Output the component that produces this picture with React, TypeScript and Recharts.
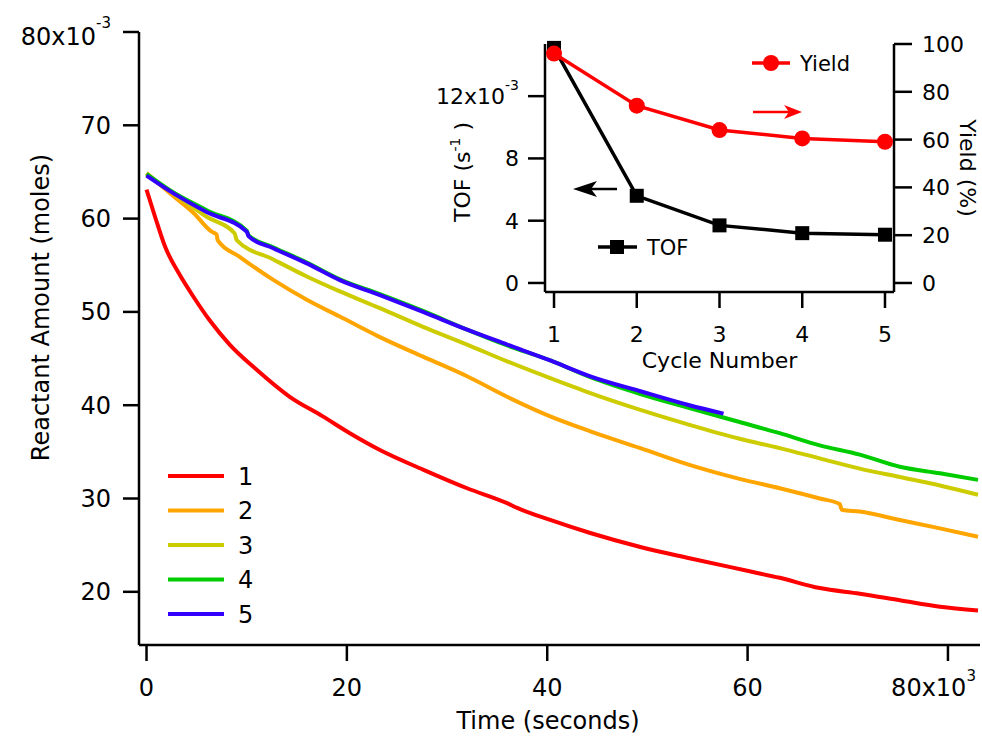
import React from 'react';
import { LineChart, Line, XAxis, YAxis, Legend, Label } from 'recharts';

const FONT = '"DejaVu Sans", Verdana, sans-serif';

// reactant amount (x10^-3 moles) against time (seconds), one pair of arrays per cycle
const run1Time = [0, 850, 1850, 3300, 4700, 6300, 8300, 11000, 14300, 17600, 20300, 23300, 27600, 32000, 36000, 37000, 40300, 44300, 49300, 54200, 60200, 63200, 67200, 71200, 75200, 79200, 83000];
const run1Amount = [63.1, 60.2, 57.0, 54.0, 51.6, 49.1, 46.5, 43.8, 40.9, 38.8, 37.0, 35.2, 33.1, 31.1, 29.5, 29.0, 27.7, 26.3, 24.8, 23.6, 22.2, 21.5, 20.4, 19.8, 19.1, 18.4, 18.0];

const run2Time = [0, 2700, 4700, 6500, 7000, 7100, 9300, 12700, 16000, 19300, 23300, 27600, 32000, 36000, 40300, 44300, 49300, 54200, 59200, 63200, 67200, 69200, 69400, 71200, 75200, 79200, 83000];
const run2Amount = [64.9, 62.4, 60.6, 58.6, 58.3, 57.7, 55.9, 53.4, 51.3, 49.5, 47.3, 45.2, 43.1, 40.9, 38.8, 37.2, 35.4, 33.6, 32.1, 31.1, 30.0, 29.4, 28.8, 28.6, 27.7, 26.8, 25.9];

const run3Time = [0, 2700, 6000, 8800, 9000, 12700, 16000, 19300, 23300, 27600, 32000, 36000, 40300, 44300, 49300, 54200, 59200, 63200, 67200, 71200, 75200, 79200, 83000];
const run3Amount = [64.7, 62.7, 60.2, 58.4, 57.7, 55.6, 53.8, 52.2, 50.4, 48.4, 46.5, 44.7, 42.9, 41.3, 39.5, 37.9, 36.4, 35.4, 34.3, 33.2, 32.3, 31.4, 30.4];

const run4Time = [0, 2700, 6000, 10000, 10200, 12700, 16000, 19300, 23300, 27600, 32000, 36000, 40300, 44300, 49300, 54200, 59200, 63200, 67200, 71200, 75200, 79200, 83000];
const run4Amount = [64.8, 62.8, 60.9, 58.7, 58.2, 56.9, 55.3, 53.5, 51.9, 50.1, 48.1, 46.4, 44.8, 43.0, 41.2, 39.7, 38.2, 37.0, 35.7, 34.7, 33.4, 32.7, 32.0];

const run5Time = [0, 2700, 6000, 10000, 10200, 12700, 16000, 19300, 23300, 27600, 32000, 36000, 40300, 44300, 49300, 54200, 57600];
const run5Amount = [64.6, 62.7, 60.7, 58.6, 58.1, 56.8, 55.2, 53.4, 51.8, 50.0, 48.1, 46.5, 44.8, 43.1, 41.5, 40.0, 39.1];

const runNames = ['1', '2', '3', '4', '5'];
const RUN_COLORS = ['#FF0000', '#FFA500', '#CCCC00', '#00CC00', '#3300FF'];

// inset: turnover frequency (x10^-3 s^-1) and yield (%) per cycle
const cycles = [1, 2, 3, 4, 5];
const tofValues = [15.1, 5.6, 3.7, 3.2, 3.1];
const yieldValues = [96, 74.2, 64, 60.5, 59.1];

const timeTicks = [0, 20000, 40000, 60000, 80000];
const amountTicks = [20, 30, 40, 50, 60, 70, 80];
const tofTicks = [0, 4, 8, 12];
const yieldTicks = [0, 20, 40, 60, 80, 100];

const zip = (ts: number[], vs: number[]) => ts.map((t, i) => ({ t, v: vs[i] }));
const runs = [
  zip(run1Time, run1Amount),
  zip(run2Time, run2Amount),
  zip(run3Time, run3Amount),
  zip(run4Time, run4Amount),
  zip(run5Time, run5Amount),
];
const cycleData = cycles.map((c, i) => ({ cycle: c, tof: tofValues[i], yld: yieldValues[i] }));

const axisStyle = { stroke: '#000', strokeWidth: 2.5 };

function TimeTick({ x, y, payload }: any) {
  const v = payload.value;
  if (v === 80000) {
    return (
      <text x={x + 28} y={y + 35} textAnchor="end" fontSize={24} fontFamily={FONT} fill="#000">
        80x10<tspan dy={-15} fontSize={15}>3</tspan>
      </text>
    );
  }
  return (
    <text x={x} y={y + 35} textAnchor="middle" fontSize={24} fontFamily={FONT} fill="#000">
      {v / 1000}
    </text>
  );
}

function AmountTick({ x, y, payload }: any) {
  const v = payload.value;
  if (v === 80) {
    return (
      <text x={x} y={y + 13} textAnchor="end" fontSize={24} fontFamily={FONT} fill="#000">
        80x10<tspan dy={-17} fontSize={15}>-3</tspan>
      </text>
    );
  }
  return (
    <text x={x} y={y + 8.5} textAnchor="end" fontSize={24} fontFamily={FONT} fill="#000">
      {v}
    </text>
  );
}

function CycleTick({ x, y, payload }: any) {
  return (
    <text x={x} y={y + 34} textAnchor="middle" fontSize={22} fontFamily={FONT} fill="#000">
      {payload.value}
    </text>
  );
}

function TofTick({ x, y, payload }: any) {
  const v = payload.value;
  if (v === 12) {
    return (
      <text x={x} y={y + 8} textAnchor="end" fontSize={22} fontFamily={FONT} fill="#000">
        12x10<tspan dy={-14} fontSize={14}>-3</tspan>
      </text>
    );
  }
  return (
    <text x={x} y={y + 8} textAnchor="end" fontSize={22} fontFamily={FONT} fill="#000">
      {v}
    </text>
  );
}

function YieldTick({ x, y, payload }: any) {
  return (
    <text x={x} y={y + 8} textAnchor="start" fontSize={22} fontFamily={FONT} fill="#000">
      {payload.value}
    </text>
  );
}

function SquareDot({ cx, cy }: any) {
  if (cx == null || cy == null) return null;
  return <rect x={cx - 7} y={cy - 7} width={14} height={14} fill="#000" />;
}

function MainLegend() {
  return (
    <svg width={120} height={180}>
      {runNames.map((n, i) => {
        const cy = 18 + i * 34.5;
        return (
          <g key={n}>
            <line x1={8} x2={64} y1={cy} y2={cy} stroke={RUN_COLORS[i]} strokeWidth={4} />
            <text x={78} y={cy + 8.5} fontSize={24} fontFamily={FONT} fill="#000">{n}</text>
          </g>
        );
      })}
    </svg>
  );
}

// inset legend boxes and the axis arrows, in inset coordinates
function InsetLegend() {
  return (
    <svg width={560} height={360}>
      <line x1={332} x2={370} y1={43} y2={43} stroke="#FF0000" strokeWidth={3.5} />
      <circle cx={351} cy={43} r={8} fill="#FF0000" />
      <text x={380} y={51} fontSize={21} fontFamily={FONT} fill="#000">Yield</text>
      <line x1={333} x2={370} y1={92} y2={92} stroke="#FF0000" strokeWidth={2.5} />
      <path d="M382,92 L364,85 L369,92 L364,99 Z" fill="#FF0000" />
      <line x1={166} x2={197} y1={169} y2={169} stroke="#000" strokeWidth={2.5} />
      <path d="M153,169 L177,161 L171,169 L177,177 Z" fill="#000" />
      <line x1={178} x2={217} y1={227} y2={227} stroke="#000" strokeWidth={3.5} />
      <rect x={190} y={220} width={14} height={14} fill="#000" />
      <text x={227} y={235} fontSize={21} fontFamily={FONT} fill="#000">TOF</text>
    </svg>
  );
}

function MainYTitle({ viewBox }: any) {
  const cx = viewBox.x + 41;
  const cy = viewBox.y + viewBox.height / 2 - 31;
  return (
    <text x={cx} y={cy} transform={`rotate(-90, ${cx}, ${cy})`} dy={8} textAnchor="middle" fontSize={24} fontFamily={FONT} fill="#000">
      Reactant Amount (moles)
    </text>
  );
}

function MainXTitle({ viewBox }: any) {
  return (
    <text x={548} y={viewBox.y + 84} textAnchor="middle" fontSize={24} fontFamily={FONT} fill="#000">
      Time (seconds)
    </text>
  );
}

function TofTitle({ viewBox }: any) {
  const cx = viewBox.x + 42;
  const cy = viewBox.y + viewBox.height / 2 + 4;
  return (
    <text x={cx} y={cy} transform={`rotate(-90, ${cx}, ${cy})`} dy={8} textAnchor="middle" fontSize={22} fontFamily={FONT} fill="#000">
      TOF (s<tspan dy={-10} fontSize={14}>-1</tspan><tspan dy={10}> )</tspan>
    </text>
  );
}

function YieldTitle({ viewBox }: any) {
  const cx = viewBox.x + 74;
  const cy = viewBox.y + viewBox.height / 2;
  return (
    <text x={cx} y={cy} transform={`rotate(90, ${cx}, ${cy})`} dy={8} textAnchor="middle" fontSize={22} fontFamily={FONT} fill="#000">
      Yield (%)
    </text>
  );
}

function CycleTitle({ viewBox }: any) {
  return (
    <text x={viewBox.x + viewBox.width / 2} y={viewBox.y + 76} textAnchor="middle" fontSize={22} fontFamily={FONT} fill="#000">
      Cycle Number
    </text>
  );
}

export default function App() {
  return (
    <div style={{ position: 'absolute', left: 0, top: 0, width: 982, height: 737, background: '#fff', fontFamily: FONT }}>
      <LineChart width={982} height={737} margin={{ top: 32, right: 2, bottom: 0, left: 0 }}>
        <XAxis
          type="number"
          dataKey="t"
          domain={[-750, 83200]}
          ticks={timeTicks}
          allowDataOverflow
          height={92}
          tickSize={16}
          tickMargin={0}
          axisLine={axisStyle}
          tickLine={axisStyle}
          tick={TimeTick}
        >
          <Label content={MainXTitle} />
        </XAxis>
        <YAxis
          type="number"
          domain={[14.3, 80]}
          ticks={amountTicks}
          allowDataOverflow
          width={139}
          tickSize={16}
          tickMargin={12}
          axisLine={axisStyle}
          tickLine={axisStyle}
          tick={AmountTick}
        >
          <Label content={MainYTitle} />
        </YAxis>
        {runs.map((d, i) => (
          <Line
            key={runNames[i]}
            data={d}
            dataKey="v"
            name={runNames[i]}
            type="monotone"
            stroke={RUN_COLORS[i]}
            strokeWidth={4}
            dot={false}
            isAnimationActive={false}
          />
        ))}
        <Legend
          content={MainLegend}
          layout="horizontal"
          verticalAlign="middle"
          align="center"
          wrapperStyle={{ left: 160, top: 458, width: 120, height: 180 }}
        />
      </LineChart>

      <div style={{ position: 'absolute', left: 420, top: 20 }}>
        <LineChart width={560} height={360} data={cycleData} margin={{ top: 24, right: 0, bottom: 0, left: 0 }}>
          <XAxis
            type="number"
            dataKey="cycle"
            domain={[0.891, 5.109]}
            ticks={cycles}
            allowDataOverflow
            height={88}
            tickSize={16}
            tickMargin={0}
            axisLine={axisStyle}
            tickLine={axisStyle}
            tick={CycleTick}
          >
            <Label content={CycleTitle} />
          </XAxis>
          <YAxis
            yAxisId="tof"
            orientation="left"
            type="number"
            domain={[-0.58, 15.35]}
            ticks={tofTicks}
            width={125}
            tickSize={17}
            tickMargin={9}
            axisLine={axisStyle}
            tickLine={axisStyle}
            tick={TofTick}
          >
            <Label content={TofTitle} />
          </YAxis>
          <YAxis
            yAxisId="yield"
            orientation="right"
            type="number"
            domain={[-3.77, 100]}
            ticks={yieldTicks}
            width={86}
            tickSize={18}
            tickMargin={10}
            axisLine={axisStyle}
            tickLine={axisStyle}
            tick={YieldTick}
          >
            <Label content={YieldTitle} />
          </YAxis>
          <Line
            yAxisId="tof"
            dataKey="tof"
            name="TOF"
            type="linear"
            stroke="#000"
            strokeWidth={3.5}
            dot={SquareDot}
            isAnimationActive={false}
          />
          <Line
            yAxisId="yield"
            dataKey="yld"
            name="Yield"
            type="linear"
            stroke="#FF0000"
            strokeWidth={3.5}
            dot={{ r: 8, fill: '#FF0000', stroke: '#FF0000', strokeWidth: 0 }}
            isAnimationActive={false}
          />
          <Legend
            content={InsetLegend}
            layout="horizontal"
            verticalAlign="middle"
            align="center"
            wrapperStyle={{ left: 0, top: 0, width: 560, height: 360, pointerEvents: 'none' }}
          />
        </LineChart>
      </div>
    </div>
  );
}
